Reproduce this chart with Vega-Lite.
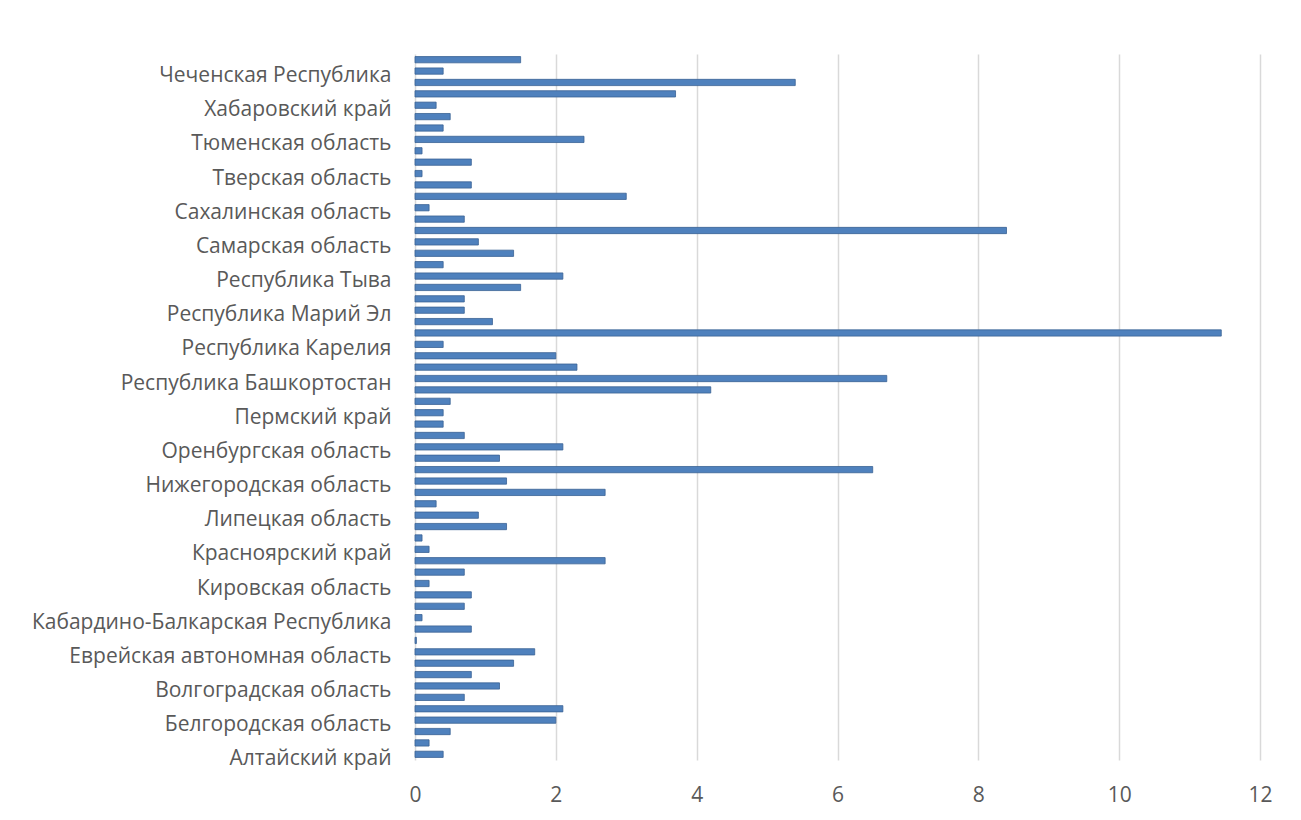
{
  "$schema": "https://vega.github.io/schema/vega-lite/v6.json",
  "autosize": {"type": "none"},
  "padding": {"left": 415, "top": 54, "right": 41, "bottom": 60},
  "width": 845,
  "height": 706,
  "background": "white",
  "data": {
    "values": [
      {"idx": 0, "region": "Алтайский край", "value": 0.4},
      {"idx": 1, "region": "Амурская область", "value": 0.2},
      {"idx": 2, "region": "Архангельская область", "value": 0.5},
      {"idx": 3, "region": "Белгородская область", "value": 2.0},
      {"idx": 4, "region": "Брянская область", "value": 2.1},
      {"idx": 5, "region": "Владимирская область", "value": 0.7},
      {"idx": 6, "region": "Волгоградская область", "value": 1.2},
      {"idx": 7, "region": "Вологодская область", "value": 0.8},
      {"idx": 8, "region": "Воронежская область", "value": 1.4},
      {"idx": 9, "region": "Еврейская автономная область", "value": 1.7},
      {"idx": 10, "region": "Ивановская область", "value": 0.02},
      {"idx": 11, "region": "Иркутская область", "value": 0.8},
      {"idx": 12, "region": "Кабардино-Балкарская Республика", "value": 0.1},
      {"idx": 13, "region": "Калужская область", "value": 0.7},
      {"idx": 14, "region": "Кемеровская область", "value": 0.8},
      {"idx": 15, "region": "Кировская область", "value": 0.2},
      {"idx": 16, "region": "Костромская область", "value": 0.7},
      {"idx": 17, "region": "Краснодарский край", "value": 2.7},
      {"idx": 18, "region": "Красноярский край", "value": 0.2},
      {"idx": 19, "region": "Курганская область", "value": 0.1},
      {"idx": 20, "region": "Курская область", "value": 1.3},
      {"idx": 21, "region": "Липецкая область", "value": 0.9},
      {"idx": 22, "region": "Московская область", "value": 0.3},
      {"idx": 23, "region": "Мурманская область", "value": 2.7},
      {"idx": 24, "region": "Нижегородская область", "value": 1.3},
      {"idx": 25, "region": "Новгородская область", "value": 6.5},
      {"idx": 26, "region": "Новосибирская область", "value": 1.2},
      {"idx": 27, "region": "Оренбургская область", "value": 2.1},
      {"idx": 28, "region": "Орловская область", "value": 0.7},
      {"idx": 29, "region": "Пензенская область", "value": 0.4},
      {"idx": 30, "region": "Пермский край", "value": 0.4},
      {"idx": 31, "region": "Приморский край", "value": 0.5},
      {"idx": 32, "region": "Псковская область", "value": 4.2},
      {"idx": 33, "region": "Республика Башкортостан", "value": 6.7},
      {"idx": 34, "region": "Республика Бурятия", "value": 2.3},
      {"idx": 35, "region": "Республика Дагестан", "value": 2.0},
      {"idx": 36, "region": "Республика Карелия", "value": 0.4},
      {"idx": 37, "region": "Республика Коми", "value": 11.45},
      {"idx": 38, "region": "Республика Крым", "value": 1.1},
      {"idx": 39, "region": "Республика Марий Эл", "value": 0.7},
      {"idx": 40, "region": "Республика Мордовия", "value": 0.7},
      {"idx": 41, "region": "Республика Татарстан", "value": 1.5},
      {"idx": 42, "region": "Республика Тыва ", "value": 2.1},
      {"idx": 43, "region": "Ростовская область", "value": 0.4},
      {"idx": 44, "region": "Рязанская область", "value": 1.4},
      {"idx": 45, "region": "Самарская область", "value": 0.9},
      {"idx": 46, "region": "Санкт-Петербург", "value": 8.4},
      {"idx": 47, "region": "Саратовская область", "value": 0.7},
      {"idx": 48, "region": "Сахалинская область", "value": 0.2},
      {"idx": 49, "region": "Свердловская область", "value": 3.0},
      {"idx": 50, "region": "Смоленская область", "value": 0.8},
      {"idx": 51, "region": "Тверская область", "value": 0.1},
      {"idx": 52, "region": "Томская область", "value": 0.8},
      {"idx": 53, "region": "Тульская область", "value": 0.1},
      {"idx": 54, "region": "Тюменская область", "value": 2.4},
      {"idx": 55, "region": "Удмуртская Республика", "value": 0.4},
      {"idx": 56, "region": "Ульяновская область", "value": 0.5},
      {"idx": 57, "region": "Хабаровский край", "value": 0.3},
      {"idx": 58, "region": "Ханты-Мансийский автономный округ", "value": 3.7},
      {"idx": 59, "region": "Челябинская область", "value": 5.4},
      {"idx": 60, "region": "Чеченская Республика", "value": 0.4},
      {"idx": 61, "region": "Чувашская Республика", "value": 1.5}
    ]
  },
  "mark": {"type": "bar", "fill": "#4f81bd", "stroke": "#3a6294", "strokeWidth": 0.8},
  "encoding": {
    "y": {
      "field": "region",
      "type": "nominal",
      "sort": {"field": "idx", "order": "descending"},
      "scale": {"paddingInner": 0.45, "paddingOuter": 0.225},
      "axis": {
        "title": null,
        "values": ["Алтайский край", "Белгородская область", "Волгоградская область", "Еврейская автономная область", "Кабардино-Балкарская Республика", "Кировская область", "Красноярский край", "Липецкая область", "Нижегородская область", "Оренбургская область", "Пермский край", "Республика Башкортостан", "Республика Карелия", "Республика Марий Эл", "Республика Тыва ", "Самарская область", "Сахалинская область", "Тверская область", "Тюменская область", "Хабаровский край", "Чеченская Республика"],
        "ticks": false,
        "domain": false,
        "labelPadding": 24,
        "labelOffset": 5,
        "labelFont": "Open Sans",
        "labelFontSize": 21,
        "labelColor": "#595959",
        "labelLimit": 500
      }
    },
    "x": {
      "field": "value",
      "type": "quantitative",
      "scale": {"domain": [0, 12], "nice": false},
      "axis": {
        "title": null,
        "values": [0, 2, 4, 6, 8, 10, 12],
        "ticks": false,
        "domain": false,
        "grid": true,
        "gridColor": "#d9d9d9",
        "gridWidth": 1.5,
        "labelFlush": false,
        "labelPadding": 24,
        "labelFont": "Open Sans",
        "labelFontSize": 21,
        "labelColor": "#595959"
      }
    }
  },
  "config": {"view": {"stroke": null}}
}
